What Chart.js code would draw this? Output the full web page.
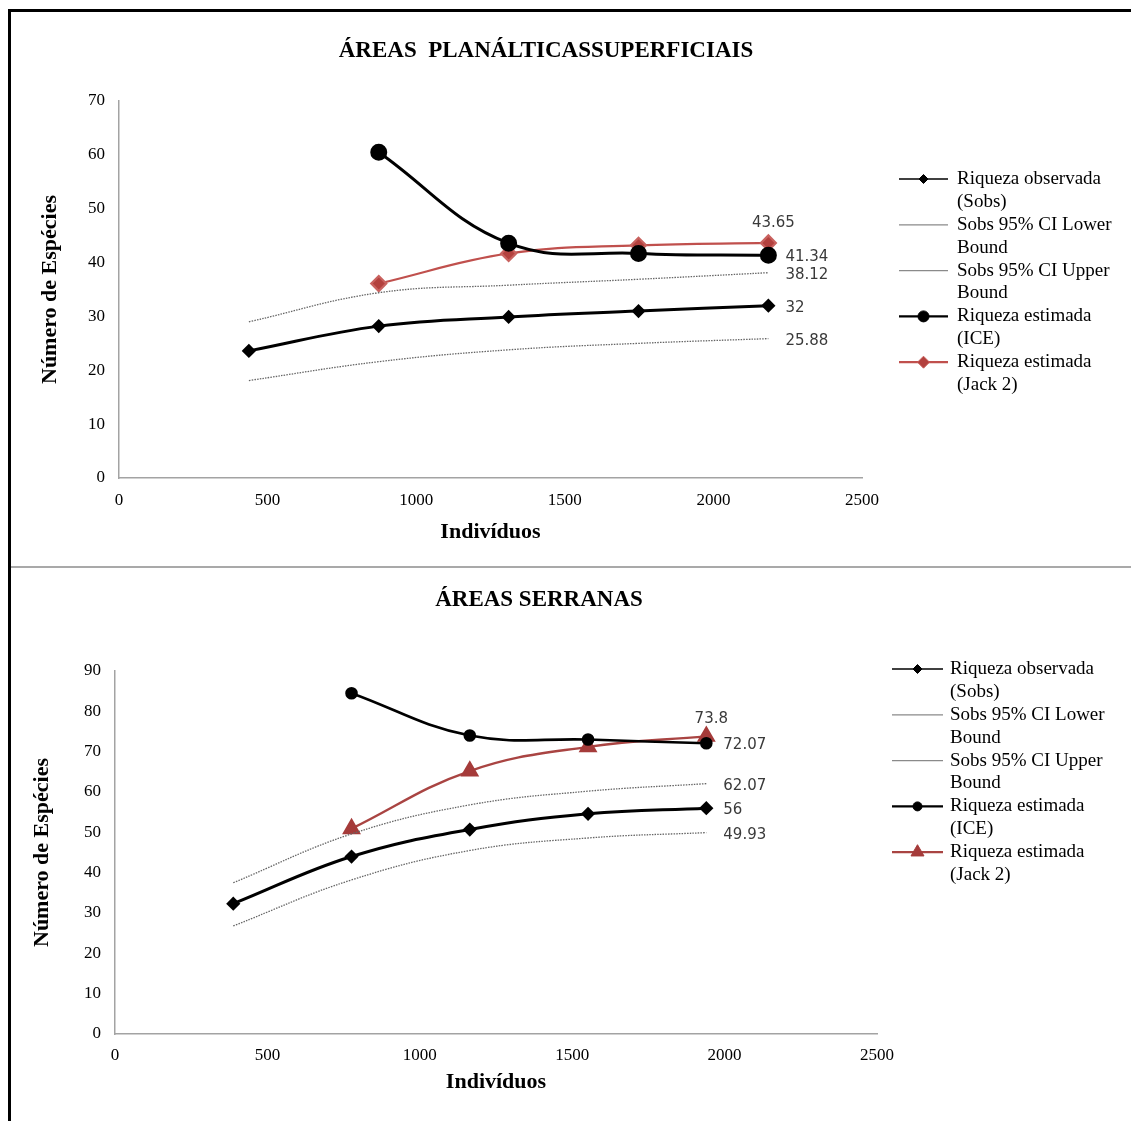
<!DOCTYPE html>
<html>
<head>
<meta charset="utf-8">
<script src="https://cdn.jsdelivr.net/npm/chart.js"></script>
<style>
  html, body { margin: 0; padding: 0; background: #ffffff; }
  body { width: 1131px; height: 1121px; position: relative; overflow: hidden; }
  #frameTop { position: absolute; left: 8px; top: 9px; width: 1123px; height: 3px; background: #000; }
  #frameLeft { position: absolute; left: 8px; top: 9px; width: 3px; height: 1112px; background: #000; }
  #sep { position: absolute; left: 11px; top: 566px; width: 1120px; height: 2px; background: #a9a9a9; }
  #c1 { position: absolute; left: 11px; top: 12px; }
  #c2 { position: absolute; left: 11px; top: 569px; }
</style>
</head>
<body>
<div id="frameTop"></div>
<div id="frameLeft"></div>
<div id="sep"></div>
<canvas id="c1" width="1120" height="554"></canvas>
<canvas id="c2" width="1120" height="552"></canvas>
<script>
// ---------------- DATA ----------------
const seriesNames = [
  ['Riqueza observada', '(Sobs)'],
  ['Sobs 95% CI Lower', 'Bound'],
  ['Sobs 95% CI Upper', 'Bound'],
  ['Riqueza estimada', '(ICE)'],
  ['Riqueza estimada', '(Jack 2)']
];
const xTickValues = [0, 500, 1000, 1500, 2000, 2500];

// Chart 1: Áreas planálticas superficiais
const title1 = 'ÁREAS  PLANÁLTICASSUPERFICIAIS';
const yTickValues1 = [0, 10, 20, 30, 40, 50, 60, 70];
const individuos1 = [437, 874, 1311, 1748, 2185];
const sobs1  = [23.6, 28.2, 29.9, 31.0, 32];
const lower1 = [18.1, 21.6, 23.8, 25.0, 25.88];
const upper1 = [29.0, 34.4, 35.8, 36.9, 38.12];
const ice1   = [null, 60.5, 43.6, 41.7, 41.34];
const jack1  = [null, 36.1, 41.7, 43.2, 43.65];

// Chart 2: Áreas serranas
const title2 = 'ÁREAS SERRANAS';
const yTickValues2 = [0, 10, 20, 30, 40, 50, 60, 70, 80, 90];
const individuos2 = [388, 776, 1164, 1552, 1940];
const sobs2  = [32.3, 44.0, 50.7, 54.6, 56];
const lower2 = [26.8, 38.2, 45.5, 48.6, 49.93];
const upper2 = [37.5, 49.6, 56.8, 60.2, 62.07];
const ice2   = [null, 84.5, 74.0, 73.0, 72.07];
const jack2  = [null, 50.9, 65.2, 71.2, 73.8];

const axisTitleX = 'Indivíduos';
const axisTitleY = 'Número de Espécies';

// ---------------- HELPERS ----------------
const SERIF = '"Liberation Serif", "Times New Roman", serif';
const SANS = '"DejaVu Sans", sans-serif';

function pts(xs, ys) {
  const out = [];
  xs.forEach((x, i) => { if (ys[i] !== null) out.push({ x: x, y: ys[i] }); });
  return out;
}

function drawMarker(ctx, style, x, y, r, fill, stroke) {
  ctx.save();
  ctx.fillStyle = fill; ctx.strokeStyle = stroke; ctx.lineWidth = 1;
  ctx.beginPath();
  if (style === 'circle') {
    ctx.arc(x, y, r, 0, Math.PI * 2);
  } else if (style === 'rectRot') {
    ctx.moveTo(x - r, y); ctx.lineTo(x, y - r); ctx.lineTo(x + r, y); ctx.lineTo(x, y + r);
  } else if (style === 'triangle') {
    for (let k = 0; k < 3; k++) {
      const a = k * 2 * Math.PI / 3;
      const px = x + Math.sin(a) * r, py = y - Math.cos(a) * r;
      if (k === 0) ctx.moveTo(px, py); else ctx.lineTo(px, py);
    }
  }
  ctx.closePath();
  ctx.fill(); ctx.stroke();
  ctx.restore();
}

const extrasPlugin = {
  id: 'extras',
  afterDatasetsDraw(chart, args, o) {
    const ctx = chart.ctx;
    ctx.save();
    // chart title
    ctx.font = 'bold 23px ' + SERIF;
    ctx.fillStyle = '#000';
    ctx.textAlign = 'center';
    ctx.textBaseline = 'middle';
    ctx.fillText(o.title, o.titleX, o.titleY);

    // value labels at the last point of selected series
    ctx.font = '15px ' + SANS;
    ctx.fillStyle = '#3a3a3a';
    chart.data.datasets.forEach((ds, i) => {
      if (!ds.endLabel) return;
      const meta = chart.getDatasetMeta(i);
      const el = meta.data[meta.data.length - 1];
      const v = ds.data[ds.data.length - 1].y;
      const txt = String(v);
      if (ds.endLabel === 'top') {
        ctx.textAlign = 'center';
        ctx.fillText(txt, el.x + 5, el.y + ds.endLabelDy);
      } else {
        ctx.textAlign = 'left';
        ctx.fillText(txt, el.x + 17, el.y + ds.endLabelDy);
      }
    });

    // legend
    ctx.font = '19px ' + SERIF;
    ctx.fillStyle = '#000';
    ctx.textAlign = 'left';
    chart.data.datasets.forEach((ds, i) => {
      const y = o.legendY + i * o.legendGap;
      ctx.save();
      ctx.strokeStyle = ds.legendLineColor || ds.borderColor;
      ctx.lineWidth = ds.legendLineWidth || ds.borderWidth;
      ctx.setLineDash([]);
      ctx.beginPath();
      ctx.moveTo(o.legendLineX1, y); ctx.lineTo(o.legendLineX2, y);
      ctx.stroke();
      ctx.restore();
      if (ds.pointRadius > 0) {
        drawMarker(ctx, ds.pointStyle, (o.legendLineX1 + o.legendLineX2) / 2, y,
          ds.legendRadius, ds.pointBackgroundColor, ds.pointBorderColor);
      }
      const lines = ds.legendText;
      lines.forEach((t, k) => ctx.fillText(t, o.legendTextX, y + k * o.legendLine));
    });
    ctx.restore();
  }
};

function buildDatasets(xs, sobs, lower, upper, ice, jack, st) {
  return [
    { label: seriesNames[0].join(' '), legendText: seriesNames[0], data: pts(xs, sobs),
      borderColor: '#000', borderWidth: 3, pointStyle: 'rectRot', pointRadius: 5, legendRadius: 4.5,
      pointBackgroundColor: '#000', pointBorderColor: '#000', tension: 0.4, legendLineWidth: 1.6,
      endLabel: 'right', endLabelDy: 2 },
    { label: seriesNames[1].join(' '), legendText: seriesNames[1], data: pts(xs, lower),
      borderColor: '#666', borderWidth: 1.3, borderDash: [1.5, 1.2], pointRadius: 0, tension: 0.4,
      legendLineColor: '#8a8a8a', legendLineWidth: 1.2, endLabel: 'right', endLabelDy: 2 },
    { label: seriesNames[2].join(' '), legendText: seriesNames[2], data: pts(xs, upper),
      borderColor: '#666', borderWidth: 1.3, borderDash: [1.5, 1.2], pointRadius: 0, tension: 0.4,
      legendLineColor: '#8a8a8a', legendLineWidth: 1.2, endLabel: 'right', endLabelDy: 2 },
    { label: seriesNames[3].join(' '), legendText: seriesNames[3], data: pts(xs, ice),
      borderColor: '#000', borderWidth: st.iceWidth, pointStyle: 'circle', pointRadius: st.iceRadius,
      legendRadius: st.iceLegendRadius, legendLineWidth: 2.2,
      pointBackgroundColor: '#000', pointBorderColor: '#000', tension: 0.4,
      endLabel: st.iceLabel, endLabelDy: 2 },
    { label: seriesNames[4].join(' '), legendText: seriesNames[4], data: pts(xs, jack),
      borderColor: st.jackLine, borderWidth: st.jackWidth, pointStyle: st.jackStyle,
      pointRadius: st.jackRadius, legendRadius: st.jackLegendRadius, legendLineWidth: 2.2,
      pointBackgroundColor: st.jackFill, pointBorderColor: st.jackBorder, tension: 0.4,
      endLabel: 'top', endLabelDy: st.jackLabelDy }
  ];
}

function buildOptions(yTicks, ymax, lay, ex) {
  return {
    responsive: false,
    animation: false,
    devicePixelRatio: 1,
    layout: { padding: { left: lay.padL, right: lay.padR, top: lay.padT, bottom: 0 } },
    plugins: { legend: { display: false }, tooltip: { enabled: false }, extras: ex },
    scales: {
      x: {
        type: 'linear', min: 0, max: 2500,
        afterBuildTicks: s => { s.ticks = xTickValues.map(v => ({ value: v })); },
        afterFit: s => { s.height = lay.xHeight; },
        grid: { display: false, drawTicks: false },
        border: { display: true, color: '#a3a3a3', width: 1.5 },
        ticks: { padding: lay.xTickPad, color: '#000', font: { family: SERIF, size: 17 },
                 callback: v => String(v) },
        title: { display: true, text: axisTitleX, color: '#000',
                 font: { family: SERIF, size: 22, weight: 'bold' },
                 padding: { top: 0, bottom: lay.xTitlePad } }
      },
      y: {
        type: 'linear', min: 0, max: ymax,
        afterBuildTicks: s => { s.ticks = yTicks.map(v => ({ value: v })); },
        afterFit: s => { s.width = lay.yWidth; },
        grid: { display: false, drawTicks: false },
        border: { display: true, color: '#a3a3a3', width: 1.5 },
        ticks: { padding: 14, color: '#000', font: { family: SERIF, size: 17 },
                 callback: v => String(v) },
        title: { display: true, text: axisTitleY, color: '#000',
                 font: { family: SERIF, size: 22, weight: 'bold' },
                 padding: { top: lay.yTitlePad, bottom: 0 } }
      }
    }
  };
}

// ---------------- CHART 1 ----------------
new Chart(document.getElementById('c1'), {
  type: 'line',
  data: {
    datasets: buildDatasets(individuos1, sobs1, lower1, upper1, ice1, jack1, {
      iceWidth: 3, iceRadius: 7, iceLegendRadius: 5.5, iceLabel: 'right',
      jackLine: '#c0504d', jackWidth: 2.2, jackStyle: 'rectRot', jackRadius: 7.5, jackLegendRadius: 6,
      jackFill: '#b3413e', jackBorder: '#c9625f', jackLabelDy: -20
    })
  },
  options: buildOptions(yTickValues1, 70,
    { padL: 8, padR: 269, padT: 89, xHeight: 88, yWidth: 100, xTickPad: 12, xTitlePad: 20, yTitlePad: 18 },
    { title: title1, titleX: 535, titleY: 39,
      legendY: 167, legendGap: 45.8, legendLine: 22.8,
      legendLineX1: 888, legendLineX2: 937, legendTextX: 946 }),
  plugins: [extrasPlugin]
});

// ---------------- CHART 2 ----------------
new Chart(document.getElementById('c2'), {
  type: 'line',
  data: {
    datasets: buildDatasets(individuos2, sobs2, lower2, upper2, ice2, jack2, {
      iceWidth: 2.6, iceRadius: 5, iceLegendRadius: 4.5, iceLabel: 'right',
      jackLine: '#a94442', jackWidth: 2.4, jackStyle: 'triangle', jackRadius: 8.5, jackLegendRadius: 7.5,
      jackFill: '#a53b3a', jackBorder: '#a53b3a', jackLabelDy: -17
    })
  },
  options: buildOptions(yTickValues2, 90,
    { padL: 4, padR: 254, padT: 102, xHeight: 87, yWidth: 100, xTickPad: 11, xTitlePad: 25, yTitlePad: 14 },
    { title: title2, titleX: 528, titleY: 31,
      legendY: 100, legendGap: 45.8, legendLine: 22.8,
      legendLineX1: 881, legendLineX2: 932, legendTextX: 939 }),
  plugins: [extrasPlugin]
});
</script>
</body>
</html>
